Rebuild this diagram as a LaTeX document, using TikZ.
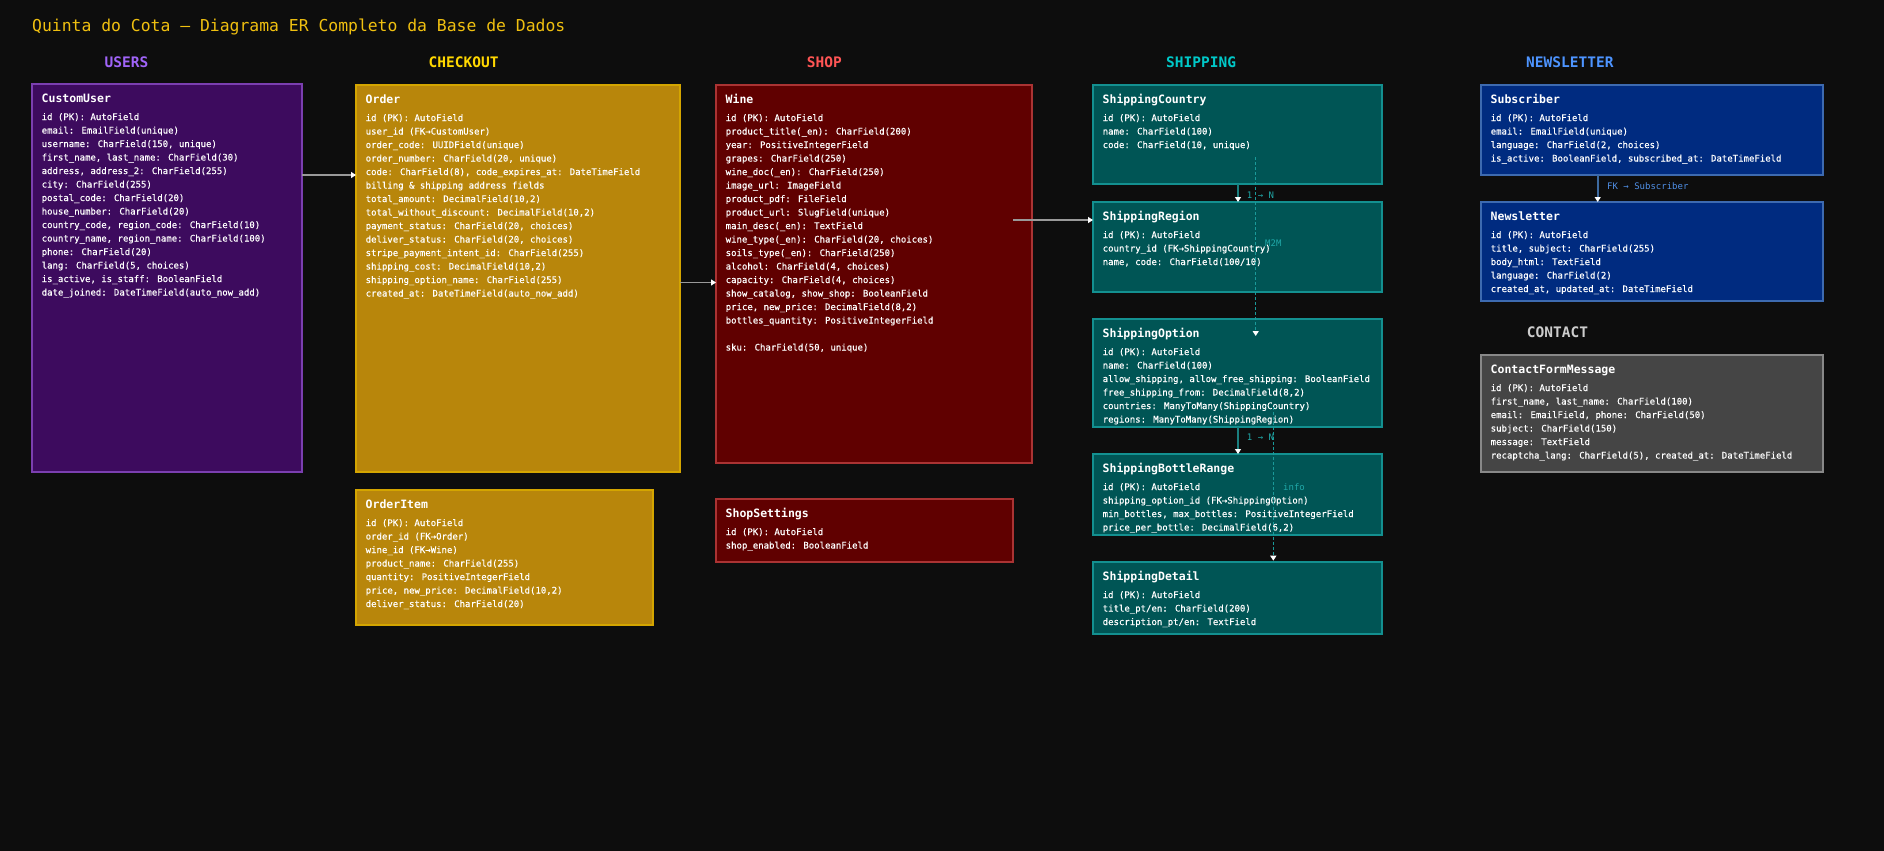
\documentclass[tikz,border=0pt]{standalone}
\usepackage{fontspec}
\newfontfamily\mono{DejaVu Sans Mono}
\newfontfamily\monofb[FakeBold=0.4]{DejaVu Sans Mono}
\usetikzlibrary{arrows.meta,calc}
\definecolor{bg}{HTML}{0D0D0D}
\definecolor{cTitle}{HTML}{F0C010}
\definecolor{cUsers}{HTML}{A064F8}
\definecolor{cCheck}{HTML}{FFD700}
\definecolor{cShop}{HTML}{FF5555}
\definecolor{cShip}{HTML}{00C8C8}
\definecolor{cNews}{HTML}{4D94FF}
\definecolor{cCont}{HTML}{CCCCCC}
\definecolor{uFill}{HTML}{3D0B5E}
\definecolor{uLine}{HTML}{7B3FB0}
\definecolor{oFill}{HTML}{B8860B}
\definecolor{oLine}{HTML}{D4A500}
\definecolor{wFill}{HTML}{600000}
\definecolor{wLine}{HTML}{AA3333}
\definecolor{sFill}{HTML}{005555}
\definecolor{sLine}{HTML}{139090}
\definecolor{nFill}{HTML}{002B80}
\definecolor{nLine}{HTML}{3D6AB0}
\definecolor{kFill}{HTML}{454545}
\definecolor{kLine}{HTML}{888888}
\definecolor{grayArr}{HTML}{999999}
\definecolor{tealArr}{HTML}{1A7F7F}
\definecolor{tealDash}{HTML}{1A9A9A}
\definecolor{tealLbl}{HTML}{20A8A8}
\definecolor{blueArr}{HTML}{3D6AA0}
\definecolor{blueLbl}{HTML}{4F8FE6}
\tikzset{
  ebox/.style={rectangle, line width=2pt, inner sep=0pt, outer sep=0pt},
  userbox/.style={ebox, fill=uFill, draw=uLine},
  orderbox/.style={ebox, fill=oFill, draw=oLine},
  winebox/.style={ebox, fill=wFill, draw=wLine},
  shipbox/.style={ebox, fill=sFill, draw=sLine},
  newsbox/.style={ebox, fill=nFill, draw=nLine},
  contbox/.style={ebox, fill=kFill, draw=kLine},
  etitle/.style={inner sep=0pt, text=white, font=\mono\bfseries\fontsize{11.5}{14}\selectfont},
  efield/.style={inner sep=0pt, text=white, font=\monofb\fontsize{9}{11}\selectfont},
  hdr/.style={inner sep=0pt, font=\mono\bfseries\fontsize{14.5}{17}\selectfont},
  lbl/.style={inner sep=0pt, font=\mono\fontsize{9}{11}\selectfont},
  tip/.style={-{Triangle[width=6pt,length=5pt,color=white,fill=white]}},
  grayline/.style={tip, draw=grayArr, line width=1.5pt},
  tealline/.style={tip, draw=tealArr, line width=2pt},
  dashline/.style={tip, draw=tealDash, line width=1.5pt, dash pattern=on 3pt off 2pt},
  blueline/.style={tip, draw=blueArr, line width=2pt}
}
\newcommand\entbox[8]{%
  \node[#6, minimum width=#4pt, minimum height=#5pt, anchor=north west] (#1) at (#2,#3) {};
  \node[etitle, anchor=base west] (#1-t) at ($(#1.north west)+(9.5,18.5)$) {#7};
  \foreach \f [count=\i] in {#8} {\node[efield, anchor=base west] (#1-\i) at ($(#1.north west)+(9.5,{22.5+13.5*\i})$) {\f};}
}
\begin{document}
\begin{tikzpicture}[x=1pt,y=-1pt]
\fill[bg] (0,0) rectangle (1884,851);
\useasboundingbox (0,0) rectangle (1884,851);

\node[inner sep=0pt, text=cTitle, font=\mono\fontsize{16.4}{19}\selectfont, anchor=base west] (title) at (32,32) {Quinta do Cota — Diagrama ER Completo da Base de Dados};

\node[hdr, text=cUsers, anchor=west] (hU) at (104.5,62) {USERS};
\node[hdr, text=cCheck, anchor=west] (hC) at (428.5,62) {CHECKOUT};
\node[hdr, text=cShop, anchor=west] (hS) at (806.7,62) {SHOP};
\node[hdr, text=cShip, anchor=west] (hSh) at (1166,62) {SHIPPING};
\node[hdr, text=cNews, anchor=west] (hN) at (1526,62) {NEWSLETTER};
\node[hdr, text=cCont, anchor=west] (hK) at (1526.7,332) {CONTACT};

\entbox{cu}{32}{84}{270}{388}{userbox}{CustomUser}{{id (PK): AutoField},{email: EmailField(unique)},{username: CharField(150, unique)},{first\_name, last\_name: CharField(30)},{address, address\_2: CharField(255)},{city: CharField(255)},{postal\_code: CharField(20)},{house\_number: CharField(20)},{country\_code, region\_code: CharField(10)},{country\_name, region\_name: CharField(100)},{phone: CharField(20)},{lang: CharField(5, choices)},{is\_active, is\_staff: BooleanField},{date\_joined: DateTimeField(auto\_now\_add)}}

\entbox{ord}{356}{85}{324}{387}{orderbox}{Order}{{id (PK): AutoField},{user\_id (FK→CustomUser)},{order\_code: UUIDField(unique)},{order\_number: CharField(20, unique)},{code: CharField(8), code\_expires\_at: DateTimeField},{billing \& shipping address fields},{total\_amount: DecimalField(10,2)},{total\_without\_discount: DecimalField(10,2)},{payment\_status: CharField(20, choices)},{deliver\_status: CharField(20, choices)},{stripe\_payment\_intent\_id: CharField(255)},{shipping\_cost: DecimalField(10,2)},{shipping\_option\_name: CharField(255)},{created\_at: DateTimeField(auto\_now\_add)}}

\entbox{oi}{356}{490}{297}{135}{orderbox}{OrderItem}{{id (PK): AutoField},{order\_id (FK→Order)},{wine\_id (FK→Wine)},{product\_name: CharField(255)},{quantity: PositiveIntegerField},{price, new\_price: DecimalField(10,2)},{deliver\_status: CharField(20)}}

\entbox{wine}{716}{85}{316}{378}{winebox}{Wine}{{id (PK): AutoField},{product\_title(\_en): CharField(200)},{year: PositiveIntegerField},{grapes: CharField(250)},{wine\_doc(\_en): CharField(250)},{image\_url: ImageField},{product\_pdf: FileField},{product\_url: SlugField(unique)},{main\_desc(\_en): TextField},{wine\_type(\_en): CharField(20, choices)},{soils\_type(\_en): CharField(250)},{alcohol: CharField(4, choices)},{capacity: CharField(4, choices)},{show\_catalog, show\_shop: BooleanField},{price, new\_price: DecimalField(8,2)},{bottles\_quantity: PositiveIntegerField},{},{sku: CharField(50, unique)}}

\entbox{ss}{716}{499}{297}{63}{winebox}{ShopSettings}{{id (PK): AutoField},{shop\_enabled: BooleanField}}

\entbox{sc}{1093}{85}{289}{99}{shipbox}{ShippingCountry}{{id (PK): AutoField},{name: CharField(100)},{code: CharField(10, unique)}}

\entbox{sr}{1093}{202}{289}{90}{shipbox}{ShippingRegion}{{id (PK): AutoField},{country\_id (FK→ShippingCountry)},{name, code: CharField(100/10)}}

\entbox{so}{1093}{319}{289}{108}{shipbox}{ShippingOption}{{id (PK): AutoField},{name: CharField(100)},{allow\_shipping, allow\_free\_shipping: BooleanField},{free\_shipping\_from: DecimalField(8,2)},{countries: ManyToMany(ShippingCountry)},{regions: ManyToMany(ShippingRegion)}}

\entbox{sbr}{1093}{454}{289}{81}{shipbox}{ShippingBottleRange}{{id (PK): AutoField},{shipping\_option\_id (FK→ShippingOption)},{min\_bottles, max\_bottles: PositiveIntegerField},{price\_per\_bottle: DecimalField(6,2)}}

\entbox{sd}{1093}{562}{289}{72}{shipbox}{ShippingDetail}{{id (PK): AutoField},{title\_pt/en: CharField(200)},{description\_pt/en: TextField}}

\entbox{sub}{1481}{85}{342}{90}{newsbox}{Subscriber}{{id (PK): AutoField},{email: EmailField(unique)},{language: CharField(2, choices)},{is\_active: BooleanField, subscribed\_at: DateTimeField}}

\entbox{nl}{1481}{202}{342}{99}{newsbox}{Newsletter}{{id (PK): AutoField},{title, subject: CharField(255)},{body\_html: TextField},{language: CharField(2)},{created\_at, updated\_at: DateTimeField}}

\entbox{cfm}{1481}{355}{342}{117}{contbox}{ContactFormMessage}{{id (PK): AutoField},{first\_name, last\_name: CharField(100)},{email: EmailField, phone: CharField(50)},{subject: CharField(150)},{message: TextField},{recaptcha\_lang: CharField(5), created\_at: DateTimeField}}

% connectors
\draw[grayline] ($(cu.north east)+(0,91)$) -- ($(ord.north west)+(0,90)$);
\draw[grayline] ($(ord.north east)+(0,197.5)$) -- ($(wine.north west)+(0,197.5)$);
\coordinate (wsrc) at ($(wine.north west)+(297,135)$);
\draw[grayline] (wsrc) -- ($(sr.north west)+(0,18)$);

\draw[tealline] ([xshift=145pt]sc.south west) -- ([xshift=145pt]sr.north west);
\node[lbl, text=tealLbl, anchor=west] (l1) at (1246.7,195) {1 → N};
\draw[dashline] ($(sc.north west)+(162.7,72)$) -- ($(so.north west)+(162.7,17)$);
\node[lbl, text=tealLbl, anchor=west] (l2) at (1265,243) {M2M};
\draw[tealline] ([xshift=145pt]so.south west) -- ([xshift=145pt]sbr.north west);
\node[lbl, text=tealLbl, anchor=west] (l3) at (1246.7,437.7) {1 → N};
\draw[dashline] ($(so.north west)+(180.3,87.7)$) -- ($(sd.north west)+(180.3,-1.3)$);
\node[lbl, text=tealLbl, anchor=west] (l4) at (1283,486.7) {info};

\draw[blueline] ([xshift=116.7pt]sub.south west) -- ([xshift=116.7pt]nl.north west);
\node[lbl, text=blueLbl, anchor=west] (l5) at (1607,185.7) {FK → Subscriber};
\end{tikzpicture}
\end{document}
